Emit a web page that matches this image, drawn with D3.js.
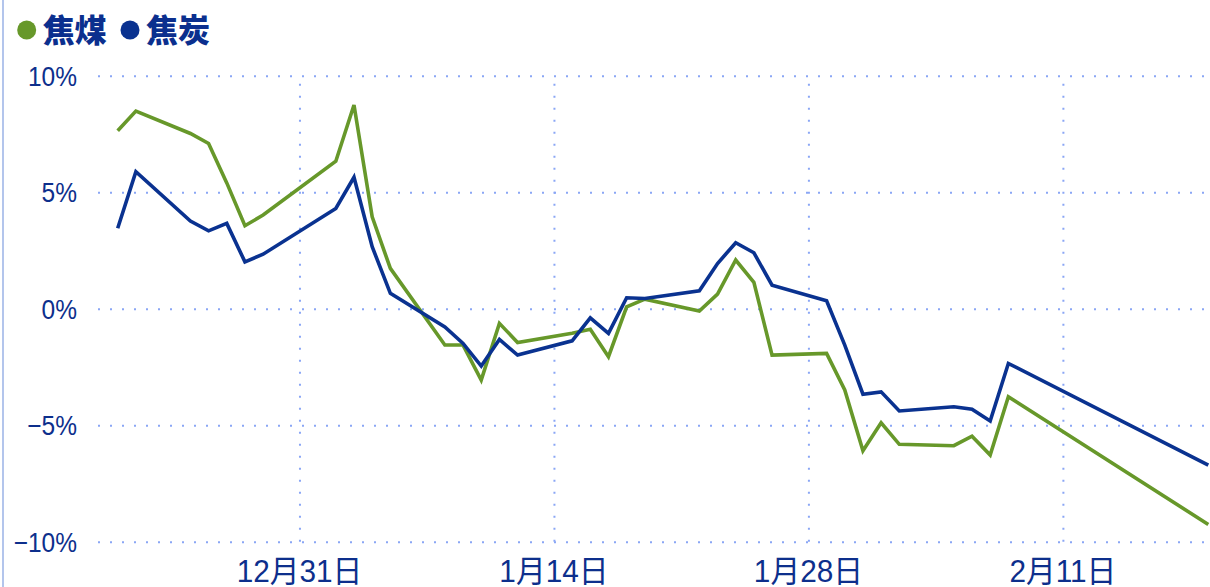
<!DOCTYPE html>
<html>
<head>
<meta charset="utf-8">
<script src="https://cdn.jsdelivr.net/npm/d3@7"></script>
<style>
  body { margin: 0; background: #fff; }
  svg { display: block; }
  .grid line { stroke: #8aa6f5; stroke-width: 2; stroke-dasharray: 2,10; }
  .grid .domain { display: none; }
  .tickLabel { fill: #0d2f8c; font-family: "Liberation Sans", Arial, "Noto Sans CJK SC", sans-serif; }
  .legendText { fill: #0b2f8e; font-family: "Noto Sans CJK SC", sans-serif; font-weight: 900; }
</style>
</head>
<body>
<div id="chart"></div>
<script>
// trading days, Dec 2023 - Feb 2024
let dates = ["2023-12-21","2023-12-22","2023-12-25","2023-12-26","2023-12-27","2023-12-28","2023-12-29",
    "2024-01-02","2024-01-03","2024-01-04","2024-01-05","2024-01-08","2024-01-09","2024-01-10","2024-01-11","2024-01-12",
    "2024-01-15","2024-01-16","2024-01-17","2024-01-18","2024-01-19","2024-01-22","2024-01-23","2024-01-24","2024-01-25","2024-01-26",
    "2024-01-29","2024-01-30","2024-01-31","2024-02-01","2024-02-02","2024-02-05","2024-02-06","2024-02-07","2024-02-08","2024-02-19"];

// 焦煤 (%)
let cokingCoal = [7.64, 8.48, 7.52, 7.09, 5.40, 3.56, 4.02,
    6.33, 8.74, 3.94, 1.73, -1.56, -1.56, -3.06, -0.63, -1.45,
    -1.05, -0.88, -2.06, 0.08, 0.41, -0.10, 0.63, 2.09, 1.13, -1.99,
    -1.92, -3.49, -6.10, -4.90, -5.82, -5.88, -5.47, -6.28, -3.78, -9.26];

// 焦炭 (%)
let coke = [3.45, 5.88, 3.76, 3.34, 3.66, 2.01, 2.34,
    4.30, 5.64, 2.66, 0.66, -0.78, -1.49, -2.46, -1.32, -1.99,
    -1.38, -0.39, -1.06, 0.47, 0.44, 0.77, 1.94, 2.83, 2.40, 1.01,
    0.34, -1.56, -3.67, -3.57, -4.39, -4.21, -4.31, -4.82, -2.35, -6.71];

let seriesNames = ["焦煤", "焦炭"];
let seriesColors = ["#67982a", "#0a3290"];

let xTickDates = ["2023-12-31", "2024-01-14", "2024-01-28", "2024-02-11"];
let xTickLabels = ["12月31日", "1月14日", "1月28日", "2月11日"];
let yTicks = [-10, -5, 0, 5, 10];

let SVGwidth = 1210,
    SVGheight = 587;

let parseDate = d3.timeParse("%Y-%m-%d");

let svg = d3.select("#chart").append("svg")
    .attr("width", SVGwidth)
    .attr("height", SVGheight);

// left border
svg.append("line")
    .attr("x1", 3).attr("x2", 3)
    .attr("y1", 0).attr("y2", SVGheight)
    .style("stroke", "#b3c5ec")
    .style("stroke-width", 2);

let xScale = d3.scaleTime()
    .domain([parseDate(dates[0]), parseDate(dates[dates.length - 1])])
    .range([117.7, 1208.3]);

let yScale = d3.scaleLinear()
    .domain([-10, 10])
    .range([541.7, 75.7]);

let gridLeft = 98,
    gridRight = SVGwidth;

// horizontal gridlines
svg.append("g")
    .attr("class", "grid")
    .attr("transform", "translate(" + gridLeft + ",0)")
    .call(d3.axisRight(yScale).tickValues(yTicks).tickSize(gridRight - gridLeft).tickFormat(""));

// vertical gridlines
svg.append("g")
    .attr("class", "grid")
    .attr("transform", "translate(0," + yScale(-10) + ")")
    .call(d3.axisTop(xScale).tickValues(xTickDates.map(parseDate))
        .tickSize(yScale(-10) - yScale(10)).tickFormat(""));

// y labels (narrow look: squeeze horizontally)
svg.selectAll(".yLabel")
    .data(yTicks)
    .enter().append("text")
    .attr("class", "tickLabel")
    .attr("transform", function(d) { return "translate(77," + yScale(d) + ") scale(0.875,1)"; })
    .attr("dy", "0.36em")
    .style("text-anchor", "end")
    .style("font-size", "28px")
    .text(function(d) { return (d < 0 ? "\u2212" + Math.abs(d) : d) + "%"; });

// x labels
svg.selectAll(".xLabel")
    .data(xTickDates)
    .enter().append("text")
    .attr("class", "tickLabel")
    .attr("transform", function(d) { return "translate(" + xScale(parseDate(d)) + ",582) scale(0.96,1)"; })
    .style("text-anchor", "middle")
    .style("font-size", "31px")
    .text(function(d, i) { return xTickLabels[i]; });

// lines
let allSeries = [cokingCoal, coke];
let line = d3.line()
    .x(function(d, i) { return xScale(parseDate(dates[i])); })
    .y(function(d) { return yScale(d); });

allSeries.forEach(function(vals, k) {
    svg.append("path")
        .datum(vals)
        .attr("d", line)
        .style("fill", "none")
        .style("stroke", seriesColors[k])
        .style("stroke-width", 3.6)
        .style("stroke-linejoin", "miter");
});

// legend
let legendX = [26.7, 130];
let legend = svg.selectAll(".legend")
    .data(seriesNames)
    .enter().append("g")
    .attr("class", "legend")
    .attr("transform", function(d, i) { return "translate(" + legendX[i] + ",30)"; });

legend.append("circle")
    .attr("r", 9.5)
    .style("fill", function(d, i) { return seriesColors[i]; });

legend.append("text")
    .attr("class", "legendText")
    .attr("x", 16)
    .attr("dy", "0.37em")
    .style("font-size", "32px")
    .text(function(d) { return d; });
</script>
</body>
</html>
